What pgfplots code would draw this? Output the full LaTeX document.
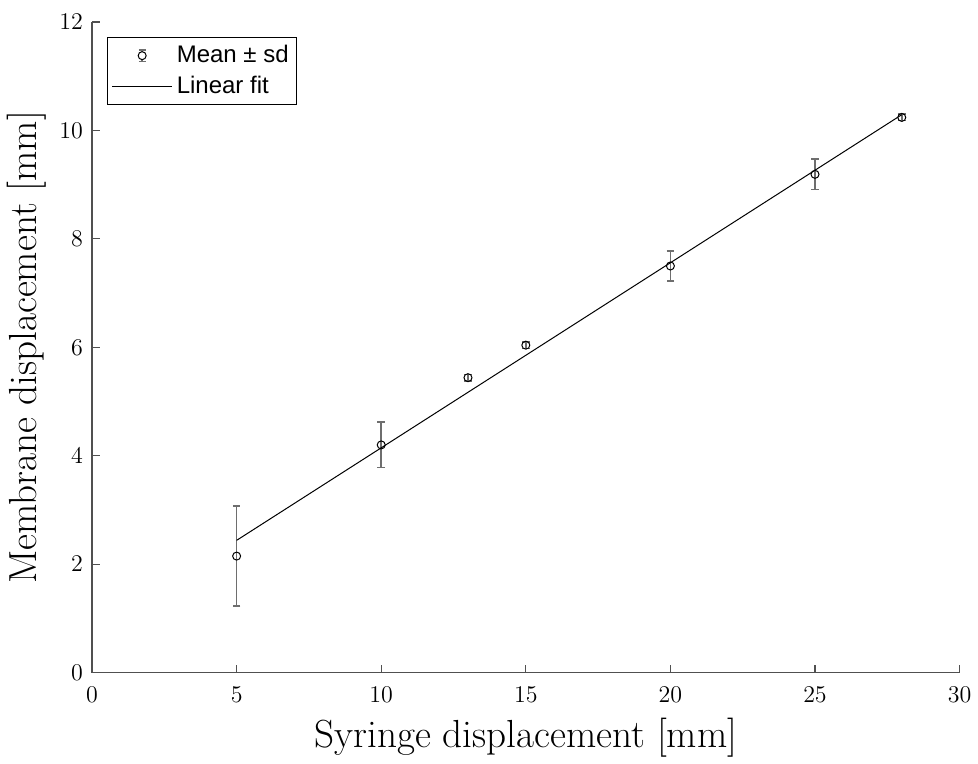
\documentclass[border=0pt]{standalone}
\usepackage{pgfplots}
\pgfplotsset{compat=1.18}
\usepackage{fontspec}
\newfontfamily\legfont{Liberation Sans}
\definecolor{axgray}{RGB}{80,80,80}
\definecolor{errgray}{RGB}{110,110,110}
\begin{document}
\begin{tikzpicture}
\begin{axis}[
  scale only axis,
  width=434pt, height=325.5pt,
  xmin=0, xmax=30, ymin=0, ymax=12,
  xtick={0,5,...,30}, ytick={0,2,...,12},
  axis lines=left,
  axis line style={-, axgray, line width=0.6pt},
  tick style={axgray, line width=0.6pt},
  tick align=inside,
  major tick length=4pt,
  tick label style={font=\fontsize{12.5}{14}\selectfont},
  xticklabel style={yshift=-3.5pt},
  yticklabel style={xshift=-1pt},
  xlabel={Syringe displacement [mm]},
  ylabel={Membrane displacement [mm]},
  label style={font=\fontsize{19.6}{22}\selectfont},
  xlabel style={yshift=-1pt},
  legend style={at={(axis description cs:0,1)}, anchor=north west,
    xshift=7.5pt, yshift=-7.5pt, draw=black, line width=0.5pt,
    font=\legfont\fontsize{12}{13}\selectfont, inner sep=2pt,
    row sep=1pt},
  legend cell align=left,
]
\addplot[only marks, mark=o, mark size=2pt, black, mark options={line width=0.5pt},
  legend image code/.code={
    \draw[errgray, line width=0.8pt] (0.53cm,-0.1cm) -- (0.53cm,0.1cm);
    \draw[errgray, line width=0.8pt] (0.47cm,-0.1cm) -- (0.59cm,-0.1cm);
    \draw[errgray, line width=0.8pt] (0.47cm,0.1cm) -- (0.59cm,0.1cm);
    \draw[black, line width=0.5pt, fill=white] (0.53cm,0cm) circle (2pt);
  },
  error bars/.cd, y dir=both, y explicit,
  error bar style={errgray, line width=0.8pt},
  error mark options={rotate=90, errgray, mark size=1.9pt, line width=0.8pt}]
  table[x=x, y=y, y error=e] {
  x y e
  5 2.15 0.92
  10 4.20 0.42
  13 5.44 0.06
  15 6.04 0.06
  20 7.50 0.28
  25 9.19 0.28
  28 10.24 0.06
  };
\addlegendentry{Mean ± sd}
\addplot[black, line width=0.5pt,
  legend image code/.code={\draw[black, line width=0.5pt] (0cm,0cm) -- (1.06cm,0cm);}]
  coordinates {(5,2.44) (28,10.29)};
\addlegendentry{Linear fit}
\end{axis}
\path ([yshift=11pt]current axis.north) ([xshift=-46pt]current axis.west);
\end{tikzpicture}
\end{document}
